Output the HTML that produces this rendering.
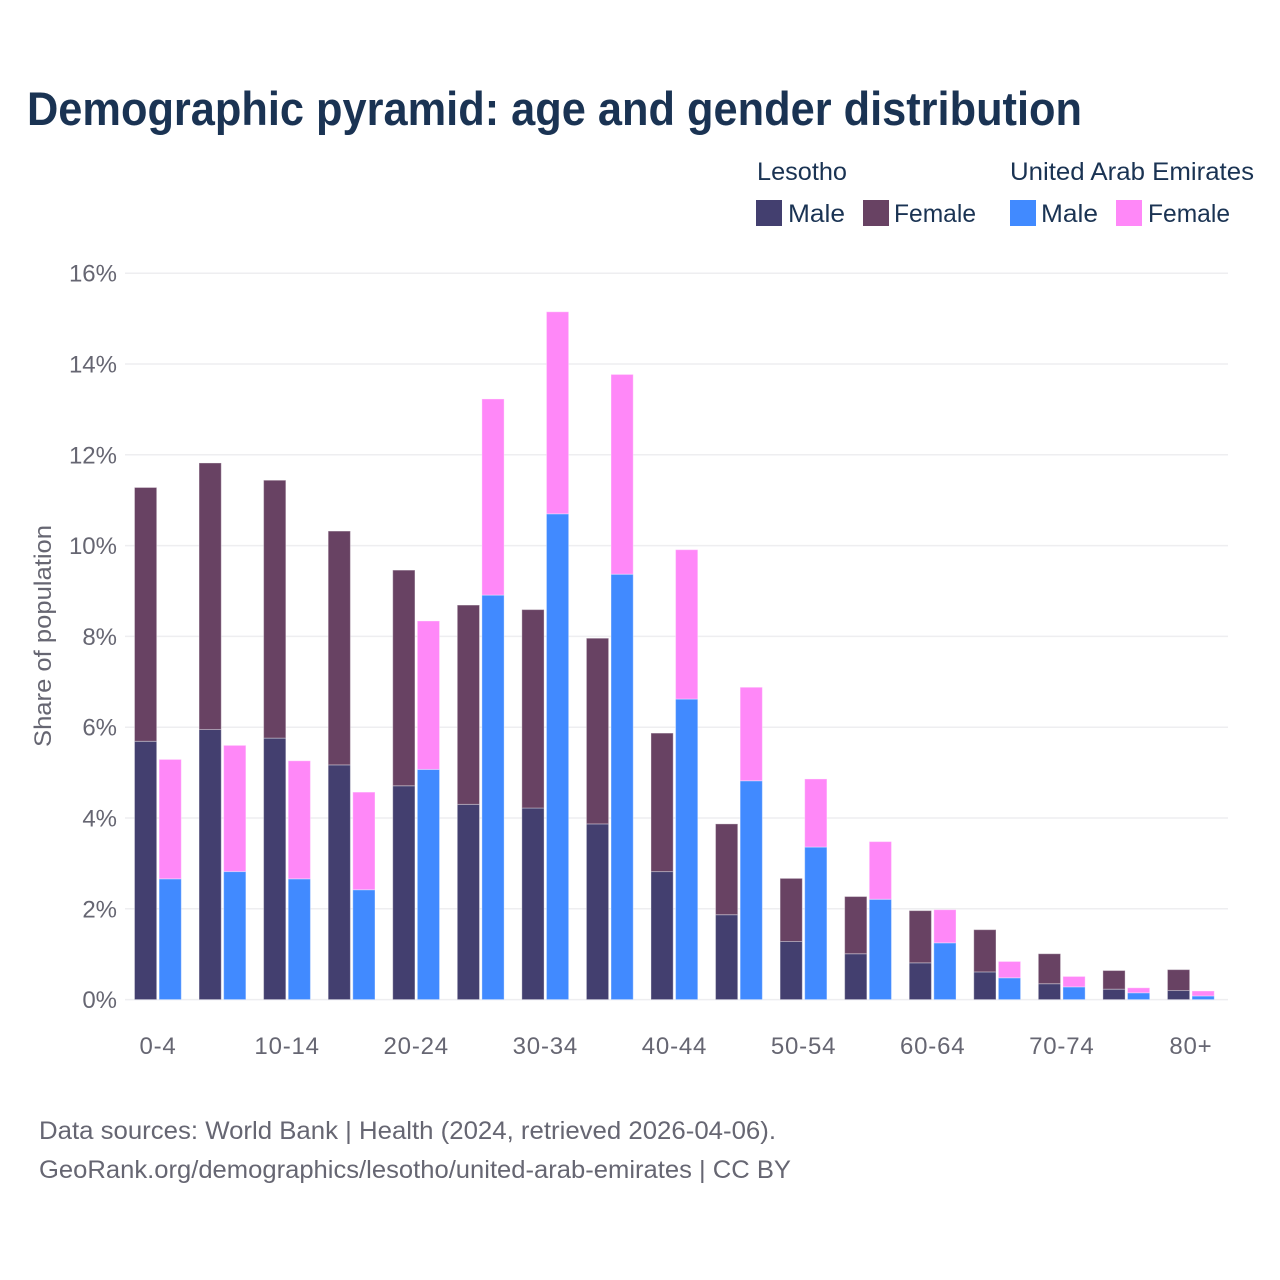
<!DOCTYPE html>
<html lang="en">
<head>
<meta charset="utf-8">
<title>Demographic pyramid: age and gender distribution</title>
<style>
html,body{margin:0;padding:0;background:#fff;}
svg{display:block;font-family:"Liberation Sans",sans-serif;}
</style>
</head>
<body>
<svg id="chart" width="1280" height="1280" viewBox="0 0 1280 1280" xmlns="http://www.w3.org/2000/svg">
  <rect width="1280" height="1280" fill="#ffffff"/>
  <text x="27" y="125" font-size="47" font-weight="700" fill="#1a3353" textLength="1055" lengthAdjust="spacingAndGlyphs">Demographic pyramid: age and gender distribution</text>

  <g font-size="25" fill="#1a3353">
    <text x="757" y="180" textLength="90" lengthAdjust="spacingAndGlyphs">Lesotho</text>
    <text x="1010" y="180" textLength="244" lengthAdjust="spacingAndGlyphs">United Arab Emirates</text>
    <rect x="756" y="200" width="26" height="26" fill="#433f6f"/>
    <text x="788" y="222" textLength="57" lengthAdjust="spacingAndGlyphs">Male</text>
    <rect x="863" y="200" width="26" height="26" fill="#684263"/>
    <text x="894" y="222" textLength="82" lengthAdjust="spacingAndGlyphs">Female</text>
    <rect x="1010" y="200" width="26" height="26" fill="#418aff"/>
    <text x="1041" y="222" textLength="57" lengthAdjust="spacingAndGlyphs">Male</text>
    <rect x="1116" y="200" width="26" height="26" fill="#ff88f8"/>
    <text x="1148" y="222" textLength="82" lengthAdjust="spacingAndGlyphs">Female</text>
  </g>

  <g id="grid"></g>
  <g id="bars"></g>
  <g id="yticks" font-size="24" fill="#666672" text-anchor="end"></g>
  <g id="xticks" font-size="24" fill="#666672" text-anchor="middle"></g>

  <text transform="translate(51,747) rotate(-90)" font-size="24" fill="#666672" textLength="222" lengthAdjust="spacingAndGlyphs">Share of population</text>

  <g font-size="25" fill="#666672">
    <text x="39" y="1139" textLength="737" lengthAdjust="spacingAndGlyphs">Data sources: World Bank | Health (2024, retrieved 2026-04-06).</text>
    <text x="39" y="1178" textLength="752" lengthAdjust="spacingAndGlyphs">GeoRank.org/demographics/lesotho/united-arab-emirates | CC BY</text>
  </g>
</svg>
<script>
const ageGroups = ["0-4","5-9","10-14","15-19","20-24","25-29","30-34","35-39","40-44","45-49","50-54","55-59","60-64","65-69","70-74","75-79","80+"];
const lesothoMale = [5.69,5.95,5.76,5.17,4.71,4.30,4.22,3.87,2.82,1.87,1.28,1.01,0.81,0.61,0.35,0.23,0.20];
const lesothoFemale = [5.59,5.87,5.68,5.15,4.75,4.39,4.37,4.09,3.05,2.00,1.39,1.26,1.15,0.93,0.66,0.41,0.46];
const uaeMale = [2.66,2.82,2.66,2.42,5.07,8.91,10.70,9.37,6.62,4.82,3.36,2.21,1.25,0.48,0.28,0.15,0.08];
const uaeFemale = [2.63,2.78,2.60,2.15,3.27,4.32,4.45,4.40,3.29,2.06,1.50,1.27,0.73,0.36,0.23,0.11,0.11];
const yTickValues = [0,2,4,6,8,10,12,14,16];

const SVG_NS = "http://www.w3.org/2000/svg";
const yZero = 999.6, yPerUnit = 45.4, xFirst = 158, xStep = 64.56;
function yScale(v){ return yZero - v * yPerUnit; }
function xCenter(i){ return xFirst + i * xStep; }

const gridGroup = document.getElementById("grid");
const yTickGroup = document.getElementById("yticks");
yTickValues.forEach(function(t){
  const line = document.createElementNS(SVG_NS, "line");
  
  
  line.setAttribute("x1", 125);
  line.setAttribute("x2", 1228);
  line.setAttribute("y1", yScale(t));
  line.setAttribute("y2", yScale(t));
  line.setAttribute("stroke", "#eeeef0");
  line.setAttribute("stroke-width", 1.5);
  gridGroup.appendChild(line);
  const label = document.createElementNS(SVG_NS, "text");
  
  
  label.setAttribute("x", 117);
  label.setAttribute("y", yScale(t) + 8.5);
  label.textContent = t + "%";
  yTickGroup.appendChild(label);
});

const barGroup = document.getElementById("bars");
function addSegment(x, base, value, fill){
  const rect = document.createElementNS(SVG_NS, "rect");
  
  
  rect.setAttribute("x", x);
  rect.setAttribute("width", 22.2);
  rect.setAttribute("y", yScale(base + value));
  rect.setAttribute("height", yScale(base) - yScale(base + value));
  rect.setAttribute("fill", fill);
  rect.setAttribute("stroke", "#ffffff");
  rect.setAttribute("stroke-width", 1);
  rect.setAttribute("stroke-opacity", 0.35);
  barGroup.appendChild(rect);
}
const xTickGroup = document.getElementById("xticks");
ageGroups.forEach(function(age, i){
  const cx = xCenter(i);
  addSegment(cx - 23.5, 0, lesothoMale[i], "#433f6f");
  addSegment(cx - 23.5, lesothoMale[i], lesothoFemale[i], "#684263");
  addSegment(cx + 1.1, 0, uaeMale[i], "#418aff");
  addSegment(cx + 1.1, uaeMale[i], uaeFemale[i], "#ff88f8");
  if (i % 2 === 0) {
    const label = document.createElementNS(SVG_NS, "text");
    
    
    label.setAttribute("x", cx);
    label.setAttribute("y", 1054);
    label.setAttribute("letter-spacing", "0.8");
    label.textContent = age;
    xTickGroup.appendChild(label);
  }
});
</script>
</body>
</html>
